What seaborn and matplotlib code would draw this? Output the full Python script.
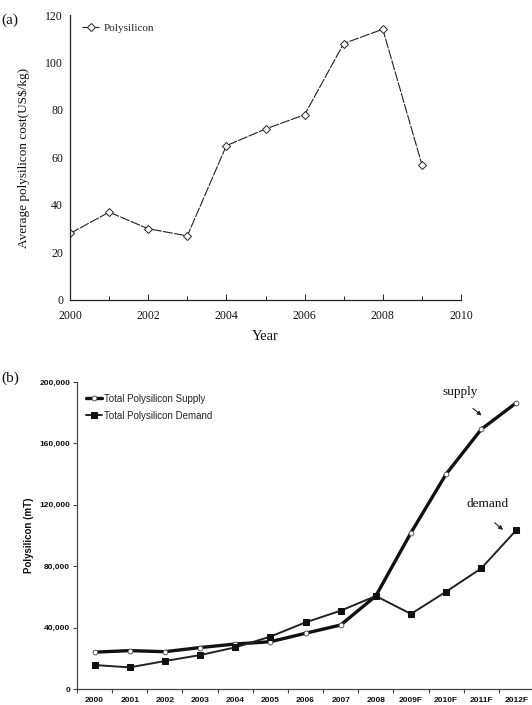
import matplotlib
matplotlib.use("Agg")
import matplotlib.pyplot as plt
import seaborn as sns
import pandas as pd
import numpy as np

# ---- data panel (a)
years_a = [2000, 2001, 2002, 2003, 2004, 2005, 2006, 2007, 2008, 2009]
cost_a = [28, 37, 30, 27, 65, 72, 78, 108, 114, 57]

# ---- data panel (b)
cats_b = ["2000", "2001", "2002", "2003", "2004", "2005", "2006", "2007",
          "2008", "2009F", "2010F", "2011F", "2012F"]
supply_b = [24000, 25000, 24300, 27000, 29300, 30800, 36300, 41700,
            60600, 101800, 140000, 169200, 186500]
demand_b = [15600, 14100, 18200, 22100, 27100, 34100, 43400, 51000,
            60600, 48900, 63400, 78600, 103600]

sns.set_theme(style="white")
W, H = 532, 705
fig = plt.figure(figsize=(W / 100, H / 100), dpi=100)

# ---------------- panel (a)
serif = "Liberation Serif"
axa = fig.add_axes([70 / W, 1 - 300 / H, (461 - 70) / W, (300 - 15) / H])
dfa = pd.DataFrame({"Year": years_a, "cost": cost_a})
sns.lineplot(data=dfa, x="Year", y="cost", ax=axa, color="#222222",
             linewidth=0.8, marker="D", markersize=4, markerfacecolor="white",
             markeredgecolor="#222222", markeredgewidth=0.7,
             dashes=False, label="Polysilicon")
axa.lines[0].set_dashes([9, 1.2])
axa.set_xlim(2000, 2010)
axa.set_ylim(0, 120)
axa.set_xticks(range(2000, 2011, 2))
axa.set_xticks(range(2000, 2011, 1), minor=True)
axa.set_yticks(range(0, 121, 20))
for s in ["top", "right"]:
    axa.spines[s].set_visible(False)
for s in ["left", "bottom"]:
    axa.spines[s].set_color("#222222")
    axa.spines[s].set_linewidth(0.9)
axa.tick_params(axis="x", which="both", direction="in", length=3, width=0.7,
                colors="#222222", pad=7, bottom=True)
axa.tick_params(axis="y", which="both", length=0, pad=5)
axa.tick_params(axis="x", which="major", length=4)
for lab in axa.get_xticklabels() + axa.get_yticklabels():
    lab.set_fontfamily(serif)
    lab.set_fontsize(8.5)
    lab.set_color("#111111")
axa.set_xlabel("Year", fontfamily=serif, fontsize=10.5, color="#111111", labelpad=6)
axa.set_ylabel("Average polysilicon cost(US$/kg)", fontfamily=serif, fontsize=9.5,
               color="#111111", labelpad=11)
leg = axa.legend(loc="upper left", frameon=False, prop={"family": serif, "size": 8},
                 handlelength=1.6, handletextpad=0.4, borderaxespad=0.3,
                 bbox_to_anchor=(0.01, 1.0))
fig.text(1 / W, 1 - 20 / H, "(a)", fontfamily=serif, fontsize=11, color="#111111",
         va="center", ha="left")

# ---------------- panel (b)
sans = "Liberation Sans"
axb = fig.add_axes([77 / W, 1 - 689 / H, 457 / W, (689 - 382) / H])
xpos = list(range(len(cats_b)))
dfb = pd.DataFrame({"x": xpos, "supply": supply_b, "demand": demand_b})
sns.lineplot(data=dfb, x="x", y="supply", ax=axb, color="#111111", linewidth=2.4,
             marker="o", markersize=3.5, markerfacecolor="white",
             markeredgecolor="#444444", markeredgewidth=0.6,
             label="Total Polysilicon Supply")
sns.lineplot(data=dfb, x="x", y="demand", ax=axb, color="#222222", linewidth=1.4,
             marker="s", markersize=5, markerfacecolor="#111111",
             markeredgecolor="#111111", label="Total Polysilicon Demand")
axb.set_xlim(-0.5, len(cats_b) - 0.5)
axb.set_ylim(0, 200000)
axb.set_yticks(range(0, 200001, 40000))
axb.set_yticklabels([f"{v:,}" for v in range(0, 200001, 40000)])
axb.set_xticks(xpos)
axb.set_xticklabels(cats_b)
axb.set_xticks([i - 0.5 for i in range(len(cats_b) + 1)], minor=True)
for s in ["top", "right"]:
    axb.spines[s].set_visible(False)
for s in ["left", "bottom"]:
    axb.spines[s].set_color("#444444")
    axb.spines[s].set_linewidth(0.9)
axb.tick_params(axis="x", which="major", length=0, pad=6)
axb.tick_params(axis="x", which="minor", direction="out", length=3, width=0.8,
                colors="#444444", bottom=True)
axb.tick_params(axis="y", which="major", direction="out", length=3, width=0.8,
                colors="#444444", left=True, pad=2)
for lab in axb.get_xticklabels() + axb.get_yticklabels():
    lab.set_fontfamily(sans)
    lab.set_fontweight("bold")
    lab.set_fontsize(6)
    lab.set_color("#111111")
axb.set_xlabel("")
axb.set_ylabel("Polysilicon (mT)", fontfamily=sans, fontweight="bold", fontsize=7,
               color="#111111", labelpad=4)
axb.legend(loc="upper left", frameon=False, prop={"family": sans, "size": 7},
           handlelength=1.7, handletextpad=0.2, labelspacing=0.7,
           bbox_to_anchor=(0.0, 0.99))
fig.text(1 / W, 1 - 378 / H, "(b)", fontfamily=serif, fontsize=11, color="#111111",
         va="center", ha="left")

# annotations
axb.annotate("", xy=(11.07, 177000), xytext=(10.7, 184000),
             arrowprops=dict(arrowstyle="-|>", color="#222222", lw=0.8,
                             mutation_scale=6))
axb.text(9.89, 193500, "supply", fontfamily=serif, fontsize=9.5, color="#111111",
         va="center", ha="left")
axb.annotate("", xy=(11.68, 102500), xytext=(11.32, 109500),
             arrowprops=dict(arrowstyle="-|>", color="#222222", lw=0.8,
                             mutation_scale=6))
axb.text(10.59, 120500, "demand", fontfamily=serif, fontsize=9.5, color="#111111",
         va="center", ha="left")

fig.savefig("out.png", dpi=100)
